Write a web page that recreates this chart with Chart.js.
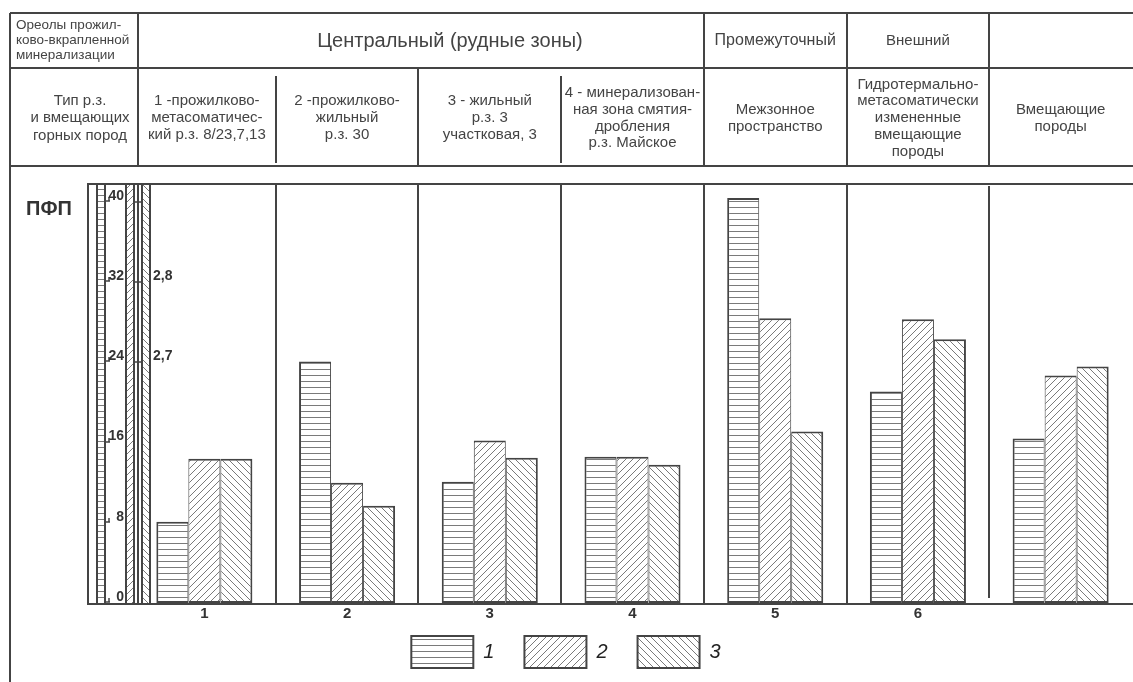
<!DOCTYPE html>
<html>
<head>
<meta charset="utf-8">
<title>ПФП</title>
<script src="https://cdn.jsdelivr.net/npm/chart.js@4.4.1/dist/chart.umd.min.js"></script>
<style>
  body{margin:0;background:#fff;}
  canvas{display:block;}
</style>
</head>
<body>
<canvas id="chart" width="1133" height="682"></canvas>
<script>
////// values
const categories = ['1', '2', '3', '4', '5', '6', ''];
const series1 = [8.1, 24.1, 12.1, 14.6, 40.4, 21.1, 16.4];
const series2 = [14.4, 12.0, 16.2, 14.6, 28.4, 28.3, 22.7];
const series3 = [14.4, 9.7, 14.5, 13.8, 17.1, 26.3, 23.6];
const legendNames = ['1', '2', '3'];
const yTicks = [0, 8, 16, 24, 32, 40];
const densityTicks = [2.7, 2.8, 2.9];
const densityLabels = ['2,7', '2,8', ''];
const yTitle = 'ПФП';

////// table header texts
const haloTitle = ['Ореолы прожил-', 'ково-вкрапленной', 'минерализации'];
const zoneNames = ['Центральный (рудные зоны)', 'Промежуточный', 'Внешний', ''];
const zoneSpans = [[0, 3], [4, 4], [5, 5], [6, 6]];
const typeTitle = ['Тип р.з.', 'и вмещающих', 'горных пород'];
const typeNames = [
    ['1 -прожилково-', 'метасоматичес-', 'кий р.з. 8/23,7,13'],
    ['2 -прожилково-', 'жильный', 'р.з. 30'],
    ['3 - жильный', 'р.з. 3', 'участковая, 3'],
    ['4 - минерализован-', 'ная зона смятия-', 'дробления', 'р.з. Майское'],
    ['Межзонное', 'пространство'],
    ['Гидротермально-', 'метасоматически', 'измененные', 'вмещающие', 'породы'],
    ['Вмещающие', 'породы']
];

const FONT = '"Liberation Sans", Arial, sans-serif';
const INK = '#444';

////// hatch patterns
function hatch(kind){
    const s = kind == 'h' ? 6 : 7;
    const c = document.createElement('canvas');
    c.width = s; c.height = s;
    const g = c.getContext('2d');
    g.fillStyle = '#fff';
    g.fillRect(0, 0, s, s);
    g.strokeStyle = '#7a7a7a';
    g.lineWidth = 1;
    g.beginPath();
    if(kind == 'h'){
        g.moveTo(0, 3.5); g.lineTo(s, 3.5);
    }else if(kind == '/'){
        g.moveTo(-1, s + 1); g.lineTo(s + 1, -1);
        g.moveTo(-1, 1); g.lineTo(1, -1);
        g.moveTo(s - 1, s + 1); g.lineTo(s + 1, s - 1);
    }else{
        g.moveTo(-1, -1); g.lineTo(s + 1, s + 1);
        g.moveTo(s - 1, -1); g.lineTo(s + 1, 1);
        g.moveTo(-1, s - 1); g.lineTo(1, s + 1);
    }
    g.stroke();
    return g.createPattern(c, 'repeat');
}
const fill1 = hatch('h');
const fill2 = hatch('/');
const fill3 = hatch('\\');

function line(ctx, x1, y1, x2, y2){
    ctx.beginPath();
    ctx.moveTo(x1, y1);
    ctx.lineTo(x2, y2);
    ctx.stroke();
}

function textBlock(ctx, arr, cx, cy, step){
    const top = cy - (arr.length - 1) * step / 2;
    arr.forEach((t, i) => ctx.fillText(t, cx, top + i * step));
}

function scaleBar(ctx, pattern, left, width, top, bottom){
    ctx.fillStyle = pattern;
    ctx.fillRect(left, top, width, bottom - top);
    ctx.strokeRect(left, top, width, bottom - top);
}

function edgeOf(chart, i){
    const x = chart.scales.x;
    if(i <= 0) return 138;
    if(i >= categories.length) return chart.chartArea.right;
    return (x.getPixelForValue(i - 1) + x.getPixelForValue(i)) / 2;
}

////// header table, frame and side scales
const tablePlugin = {
    id: 'table',
    beforeDraw(chart){
        const ctx = chart.ctx;
        const area = chart.chartArea;
        const d = chart.scales.y2, y = chart.scales.y;
        const bot = Math.round(area.bottom) + 1;
        ctx.save();
        ctx.fillStyle = '#fff';
        ctx.fillRect(0, 0, chart.width, chart.height);

        // narrow scale bars on the left (drawn under the tick labels)
        ctx.strokeStyle = INK;
        ctx.lineWidth = 2;
        scaleBar(ctx, fill1, 97, 8, area.top, bot);
        scaleBar(ctx, fill2, 126, 8, area.top, bot);
        scaleBar(ctx, fill3, 142, 8, area.top, bot);
        line(ctx, 138, area.top, 138, bot);

        ctx.lineWidth = 1.5;
        yTicks.forEach(v => {
            const py = Math.round(y.getPixelForValue(v)) - 1;
            line(ctx, 105, py, 110, py);
            line(ctx, 109, py - 4, 109, py);
        });
        ctx.fillStyle = '#333';
        ctx.font = 'bold 14px ' + FONT;
        ctx.textAlign = 'left';
        ctx.textBaseline = 'middle';
        densityTicks.forEach((v, i) => {
            const py = Math.round(d.getPixelForValue(v));
            line(ctx, 134, py, 142, py);
            ctx.fillText(densityLabels[i], 153, py - 6);
        });
        ctx.restore();
    },
    afterDraw(chart){
        const ctx = chart.ctx;
        const x = chart.scales.x;
        const area = chart.chartArea;
        const W = chart.width, H = chart.height;
        const edge = i => edgeOf(chart, i);

        ctx.save();
        ctx.strokeStyle = INK;
        ctx.lineWidth = 2;

        // table lines
        line(ctx, 10, 13, W, 13);
        line(ctx, 10, 68, W, 68);
        line(ctx, 10, 166, W, 166);
        line(ctx, 10, 13, 10, H);
        line(ctx, 138, 13, 138, 166);
        for(let i = 1; i < categories.length; i++){
            const ex = Math.round(edge(i));
            if(i >= 4) line(ctx, ex, 13, ex, 166);
            else if(i == 2) line(ctx, ex, 68, ex, 166);
            else line(ctx, ex, 76, ex, 163);
        }

        // chart frame + dividers
        const bot = Math.round(area.bottom) + 1;
        line(ctx, 87, area.top, W, area.top);
        line(ctx, 88, area.top, 88, bot);
        line(ctx, 87, bot, W, bot);
        for(let i = 1; i < categories.length; i++){
            const ex = Math.round(edge(i));
            if(i < 6) line(ctx, ex, area.top, ex, bot);
            else line(ctx, ex, area.top + 2, ex, bot - 6);
        }

        ctx.fillStyle = '#333';
        ctx.textAlign = 'left';
        ctx.textBaseline = 'middle';
        ctx.font = 'bold 20px ' + FONT;
        ctx.fillText(yTitle, 26, 209);

        // header texts
        ctx.fillStyle = INK;
        ctx.font = '13.5px ' + FONT;
        textBlock(ctx, haloTitle, 16, 40, 15);

        ctx.textAlign = 'center';
        zoneNames.forEach((t, i) => {
            let cx = (edge(zoneSpans[i][0]) + edge(zoneSpans[i][1] + 1)) / 2;
            if(i == 0) cx = 450;
            ctx.font = (i == 0 ? '20px ' : (i == 1 ? '16px ' : '15px ')) + FONT;
            ctx.fillText(t, cx, 41);
        });

        ctx.font = '15px ' + FONT;
        textBlock(ctx, typeTitle, 80, 118, 17.5);
        typeNames.forEach((arr, i) => {
            const cx = i == 0 ? (edge(0) + edge(1)) / 2 : x.getPixelForValue(i);
            textBlock(ctx, arr, cx, 118, 16.8);
        });
        ctx.restore();
    }
};

////// chart
new Chart(document.getElementById('chart'), {
    type: 'bar',
    data: {
        labels: categories,
        datasets: [
            {label: legendNames[0], data: series1, backgroundColor: fill1, borderColor: INK,
             borderWidth: {top: 2, left: 2, right: 1, bottom: 2}, borderSkipped: false},
            {label: legendNames[1], data: series2, backgroundColor: fill2, borderColor: INK,
             borderWidth: {top: 2, left: 1, right: 1, bottom: 2}, borderSkipped: false},
            {label: legendNames[2], data: series3, backgroundColor: fill3, borderColor: INK,
             borderWidth: {top: 2, left: 1, right: 2, bottom: 2}, borderSkipped: false}
        ]
    },
    options: {
        responsive: false,
        animation: false,
        events: [],
        layout: {padding: {top: 184, left: 20, right: 1, bottom: 4}},
        datasets: {bar: {barPercentage: 1, categoryPercentage: 0.673}},
        scales: {
            x: {
                grid: {display: false, drawTicks: false},
                border: {display: false},
                ticks: {font: {family: FONT, size: 15, weight: 'bold'}, color: '#333', padding: 2,
                        maxRotation: 0, autoSkip: false},
                afterFit: s => { s.height = 23; }
            },
            y: {
                min: 0,
                max: 41.8,
                grid: {display: false, drawTicks: false},
                border: {display: false},
                afterBuildTicks: s => { s.ticks = yTicks.map(v => ({value: v})); },
                afterFit: s => { s.width = 113; },
                ticks: {font: {family: FONT, size: 14, weight: 'bold'}, color: '#333', padding: 9, labelOffset: -6}
            },
            y2: {
                type: 'linear',
                display: false,
                min: 2.4,
                max: 2.9225
            }
        },
        plugins: {
            tooltip: {enabled: false},
            legend: {
                position: 'bottom',
                labels: {
                    boxWidth: 62,
                    boxHeight: 32,
                    padding: 10,
                    color: '#222',
                    font: {family: FONT, size: 20, style: 'italic'},
                    generateLabels(chart){
                        const items = Chart.defaults.plugins.legend.labels.generateLabels(chart);
                        // wider items so the three keys sit apart like in the figure
                        items.forEach(it => { it.lineWidth = 2; it.text = it.text + '\u2003'; });
                        return items;
                    }
                }
            }
        }
    },
    plugins: [tablePlugin]
});
</script>
</body>
</html>
